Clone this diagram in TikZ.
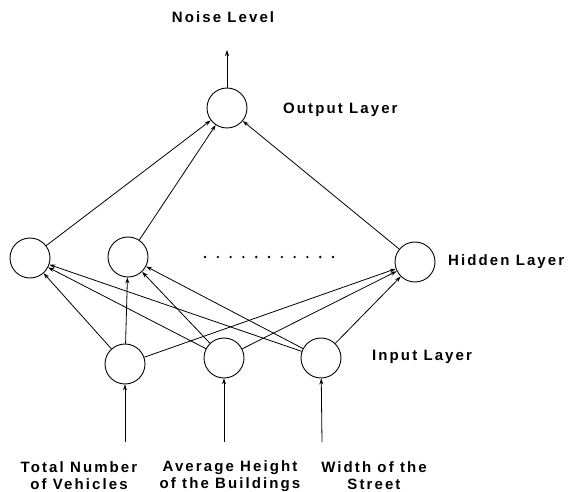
\documentclass[tikz,border=0pt]{standalone}
\usepackage{fontspec}
\setmainfont{Liberation Sans}
\newfontfamily\labelfont[LetterSpace=14]{Liberation Sans Bold}
\usetikzlibrary{arrows.meta}
\begin{document}
\begin{tikzpicture}[x=1pt,y=-1pt,
  neuron/.style={circle,draw,line width=0.9pt,minimum size=40pt,inner sep=0pt},
  lbl/.style={font=\labelfont\fontsize{15}{17}\selectfont,inner sep=0pt},
  conn/.style={line width=0.8pt,-{Stealth[length=6pt,width=4pt]}}]
\useasboundingbox (0,0) rectangle (574,492);
% neurons
\node[neuron] (o)  at (227,108) {};
\node[neuron] (h1) at (30,258) {};
\node[neuron] (h2) at (128,257) {};
\node[neuron] (h3) at (415,262) {};
\node[neuron] (i1) at (125,364) {};
\node[neuron] (i2) at (224,358) {};
\node[neuron] (i3) at (321,358) {};
% free ends of the input and output arrows
\coordinate (top) at (227,50);
\coordinate (b1) at (125,442);
\coordinate (b2) at (224,442);
\coordinate (b3) at (322,442);
% layer captions
\node[lbl] (noise) at (223,17) {Noise Level};
\node[lbl,anchor=west] (lo) at (283,110) {Output Layer};
\node[lbl,anchor=west] (lh) at (448,262) {Hidden Layer};
\node[lbl,anchor=west] (li) at (372,357) {Input Layer};
\node[lbl,align=center] (t1) at (79,476) {Total Number\\of Vehicles};
\node[lbl,align=center] (t2) at (230,476) {Average Height\\of the Buildings};
\node[lbl,align=center] (t3) at (374,476) {Width of the\\Street};
% dotted gap between hidden neurons
\foreach \k in {0,...,10}
  \fill (205+12.8*\k,257) circle (1.3pt);
% connections
\draw[conn] (o) -- (top);
\foreach \h in {h1,h2,h3} \draw[conn] (\h) -- (o);
\foreach \i in {i1,i2,i3}
  \foreach \h in {h1,h2,h3}
    \draw[conn] (\i) -- (\h);
\draw[conn] (b1) -- (i1);
\draw[conn] (b2) -- (i2);
\draw[conn] (b3) -- (i3);
\end{tikzpicture}
\end{document}
